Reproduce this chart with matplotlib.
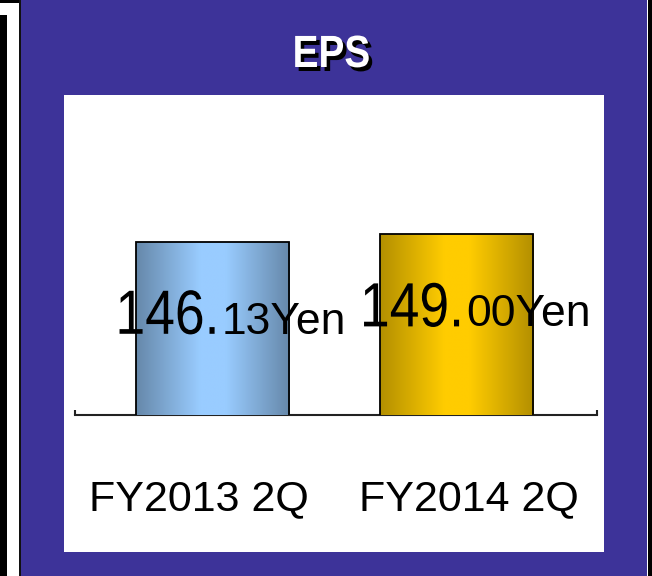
import numpy as np
import matplotlib
matplotlib.use("Agg")
import matplotlib.pyplot as plt
from matplotlib.patches import Rectangle
from matplotlib.colors import to_rgb
import matplotlib.transforms as mtrans
from matplotlib.patheffects import AbstractPathEffect

# ---- data ----
categories = ["FY2013 2Q", "FY2014 2Q"]
eps_values = [146.13, 149.00]
value_main = ["146.", "149."]
value_tail = ["13Yen", "00Yen"]
title = "EPS"
edge_colors = ["#6688AA", "#B38F00"]
center_colors = ["#99CCFF", "#FFCC00"]

W, H, DPI = 652, 576, 100
fig = plt.figure(figsize=(W / DPI, H / DPI), dpi=DPI)
fig.patch.set_facecolor("white")


class Condense(AbstractPathEffect):
    """Draw the text path squeezed horizontally (emulates a narrow face),
    optionally with a solid drop shadow."""

    def __init__(self, sx, anchor="center", shadow=None, shadow_color="black"):
        super().__init__()
        self.sx = sx
        self.anchor = anchor
        self.shadow = shadow
        self.shadow_color = to_rgb(shadow_color)

    def draw_path(self, renderer, gc, tpath, affine, rgbFace=None):
        verts = affine.transform(tpath.vertices)
        if len(verts):
            xmin, xmax = verts[:, 0].min(), verts[:, 0].max()
        else:
            xmin = xmax = 0
        ax_ = {"left": xmin, "right": xmax}.get(self.anchor, 0.5 * (xmin + xmax))
        sq = mtrans.Affine2D().translate(-ax_, 0).scale(self.sx, 1).translate(ax_, 0)
        if self.shadow is not None:
            dx, dy = self.shadow
            gc0 = renderer.new_gc()
            gc0.copy_properties(gc)
            gc0.set_foreground(self.shadow_color)
            renderer.draw_path(gc0, tpath, affine + sq + mtrans.Affine2D().translate(dx, dy),
                               self.shadow_color)
            gc0.restore()
        renderer.draw_path(gc, tpath, affine + sq, rgbFace)


def px_rect(x0, y0, x1, y1, color, z=0):
    fig.patches.append(Rectangle((x0 / W, 1 - y1 / H), (x1 - x0) / W, (y1 - y0) / H,
                                 transform=fig.transFigure, facecolor=color,
                                 edgecolor="none", zorder=z))

# frame decorations
px_rect(0, 15, 7, 576, "black")
px_rect(0, 0, 20, 3, "black")
px_rect(18.5, 0, 21, 576, "#111111")
px_rect(21, 0, 647, 576, "#3D3399")
px_rect(648, 0, 652, 576, "black")
px_rect(63.5, 94.5, 604, 552, "white", z=1)

regular = ["Liberation Sans", "DejaVu Sans"]

# title with drop shadow
fig.text(331.5 / W, 1 - 67 / H, title, ha="center", va="baseline", color="white",
         fontsize=32.5, fontweight="bold", family=regular, zorder=6,
         path_effects=[Condense(0.86, "center", shadow=(3.5, -4))])

# axes
ax_left, ax_right = 75, 597
ax_bottom, ax_top = 415, 128.6
ax = fig.add_axes([ax_left / W, 1 - ax_bottom / H, (ax_right - ax_left) / W,
                   (ax_bottom - ax_top) / H], zorder=3)
ax.set_facecolor("none")
x = np.arange(len(categories))
xlim = (-0.562, 1.573)
ylim = (79, 190)
bars = ax.bar(x, eps_values, width=0.626, facecolor="none", edgecolor="black",
              linewidth=1.3, zorder=4)

for b, ec, cc in zip(bars, edge_colors, center_colors):
    e = np.array(to_rgb(ec)); c = np.array(to_rgb(cc))
    t = np.linspace(-1, 1, 256)
    w = 1 - np.abs(t)
    w = np.clip(w * 1.2, 0, 1)
    grad = e[None, :] * (1 - w[:, None]) + c[None, :] * w[:, None]
    img = grad[None, :, :]
    x0 = b.get_x(); x1 = x0 + b.get_width()
    im = ax.imshow(img, extent=(x0, x1, ylim[0], b.get_height()), aspect="auto",
                   zorder=3, interpolation="bilinear")
    im.set_clip_path(b)

ax.set_xlim(*xlim)
ax.set_ylim(*ylim)
for s in ["top", "left", "right"]:
    ax.spines[s].set_visible(False)
ax.spines["bottom"].set_linewidth(1.5)
ax.spines["bottom"].set_color("#222222")
ax.set_yticks([])
ax.set_xticks(list(xlim))
ax.set_xticklabels([])
ax.tick_params(axis="x", direction="in", length=3.6, width=1.5, color="#222222")

pt = 72 / DPI
for i, (v, m, tl) in enumerate(zip(eps_values, value_main, value_tail)):
    ax.annotate(m, xy=(i, v), xytext=(8 * pt, -92 * pt), textcoords="offset points",
                ha="right", va="baseline", fontsize=45, family=regular, color="black",
                zorder=6, annotation_clip=False,
                path_effects=[Condense(0.855, "right")])
    ax.annotate(tl, xy=(i, v), xytext=(9 * pt, -92 * pt), textcoords="offset points",
                ha="left", va="baseline", fontsize=32, family=regular, color="black",
                zorder=6, annotation_clip=False)

cat_dx = [-13.5, 12]
for i, (cname, dx) in enumerate(zip(categories, cat_dx)):
    trans = mtrans.blended_transform_factory(ax.transData, fig.transFigure)
    ax.text(i, 1 - 510 / H, cname,
            transform=trans + mtrans.ScaledTranslation(dx / DPI, 0, fig.dpi_scale_trans),
            ha="center", va="baseline", fontsize=31, family=regular, color="black")

fig.savefig("out.png", dpi=DPI)
